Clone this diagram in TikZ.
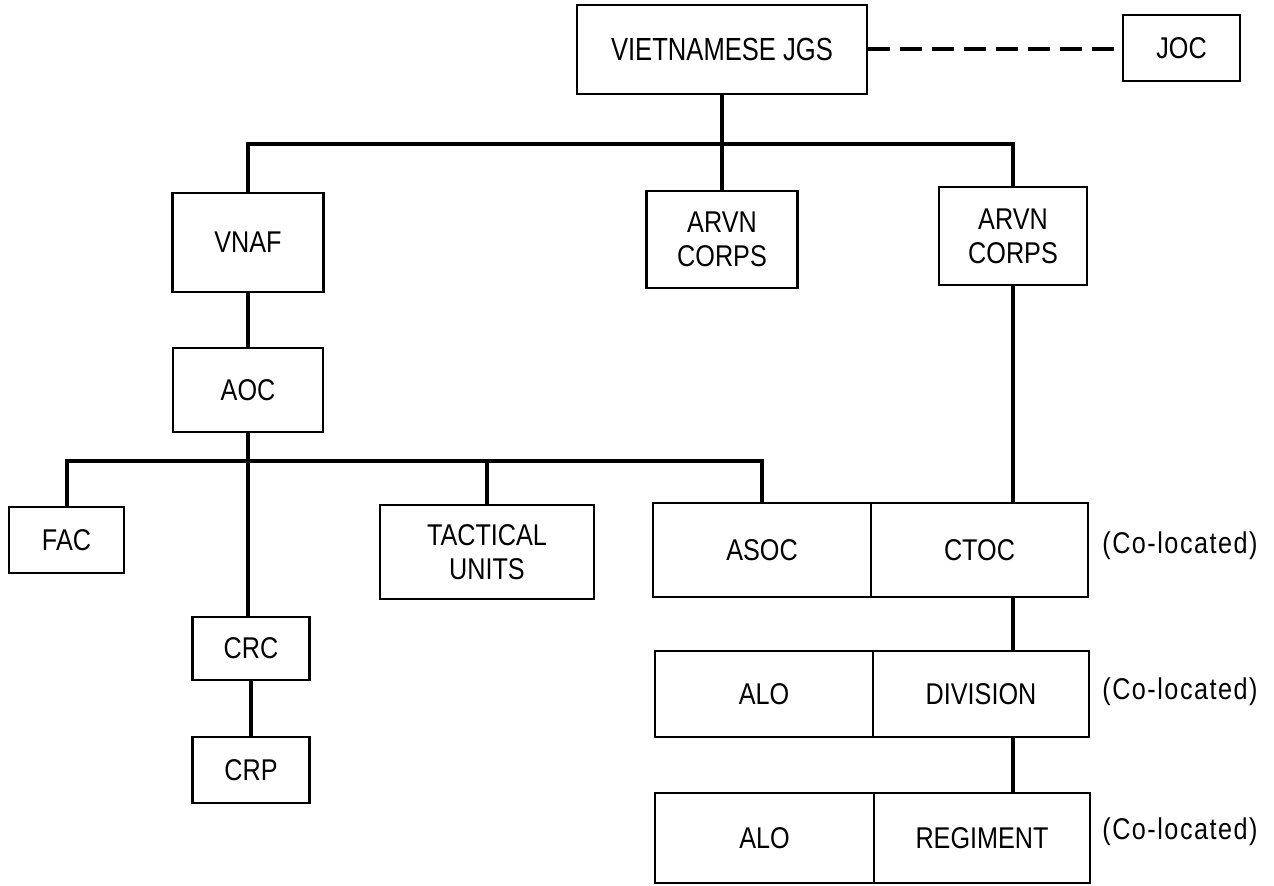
\documentclass[tikz,border=0pt]{standalone}
\usepackage{fontspec}
\setmainfont{Liberation Sans}[FakeStretch=0.84]
\begin{document}
\begin{tikzpicture}[x=0.5pt,y=-0.5pt,
  box/.style={draw, line width=1.35pt, inner sep=0pt, align=center,
    font=\fontsize{15}{17}\selectfont},
  conn/.style={line width=2pt, line join=miter},
  dashconn/.style={line width=2pt, dash pattern=on 11pt off 5pt},
  note/.style={anchor=west, inner sep=0pt, font=\fontsize{15}{17}\selectfont\addfontfeature{LetterSpace=5}}]
\fill[white] (0,0) rectangle (1274,886);
\useasboundingbox (0,0) rectangle (1274,886);

% top level
\node[box, minimum width=145pt, minimum height=44.5pt, font=\fontsize{16}{18}\selectfont\addfontfeature{FakeStretch=0.8}] (jgs) at (722,49.5) {VIETNAMESE JGS};
\node[box, minimum width=58.5pt, minimum height=33pt] (joc) at (1181.5,48) {JOC};

% second level
\node[box, minimum width=75.5pt, minimum height=49.5pt] (vnaf) at (248,242.5) {VNAF};
\node[box, minimum width=75.5pt, minimum height=48.5pt] (arvna) at (722,239.5) {ARVN\\CORPS};
\node[box, minimum width=74pt, minimum height=49pt] (arvnb) at (1013,236) {ARVN\\CORPS};

% VNAF branch
\node[box, minimum width=75pt, minimum height=42pt] (aoc) at (248,390) {AOC};
\node[box, minimum width=57.5pt, minimum height=33pt] (fac) at (66.5,540) {FAC};
\node[box, minimum width=107pt, minimum height=47pt] (tac) at (487,552) {TACTICAL\\UNITS};
\node[box, minimum width=58.5pt, minimum height=31.5pt] (crc) at (251,648.5) {CRC};
\node[box, minimum width=58.5pt, minimum height=33pt] (crp) at (251,770) {CRP};

% co-located pairs
\node[box, minimum width=109pt, minimum height=47pt] (asoc) at (762,550) {ASOC};
\node[box, minimum width=108.5pt, minimum height=47pt] (ctoc) at (979.5,550) {CTOC};
\node[box, minimum width=109pt, minimum height=43pt] (aloa) at (764,694) {ALO};
\node[box, minimum width=108pt, minimum height=43pt] (div) at (981,694) {DIVISION};
\node[box, minimum width=109.5pt, minimum height=45pt] (alob) at (764.5,838) {ALO};
\node[box, minimum width=108pt, minimum height=45pt] (reg) at (982,838) {REGIMENT};

\node[note] (cl1) at (1102,546) {(Co-located)};
\node[note] (cl2) at (1102,692) {(Co-located)};
\node[note] (cl3) at (1102,832) {(Co-located)};

% connectors
\coordinate (bus1) at (722,144);
\coordinate (bus2) at (248,461);
\draw[dashconn] (jgs.east) -- (jgs.east -| joc.west);
\draw[conn] (jgs.south) -- (arvna.north);
\draw[conn] (vnaf.north) |- (bus1) -| (arvnb.north);
\draw[conn] (vnaf.south) -- (aoc.north);
\draw[conn] (fac.north) |- (bus2) -| (asoc.north);
\draw[conn] (tac.north) -- (tac.north |- bus2);
\draw[conn] (aoc.south) -- (aoc.south |- crc.north);
\draw[conn] (crc.south) -- (crp.north);
\draw[conn] (arvnb.south) -- (arvnb.south |- ctoc.north);
\draw[conn] (arvnb.south |- ctoc.south) -- (arvnb.south |- div.north);
\draw[conn] (arvnb.south |- div.south) -- (arvnb.south |- reg.north);
\end{tikzpicture}
\end{document}
